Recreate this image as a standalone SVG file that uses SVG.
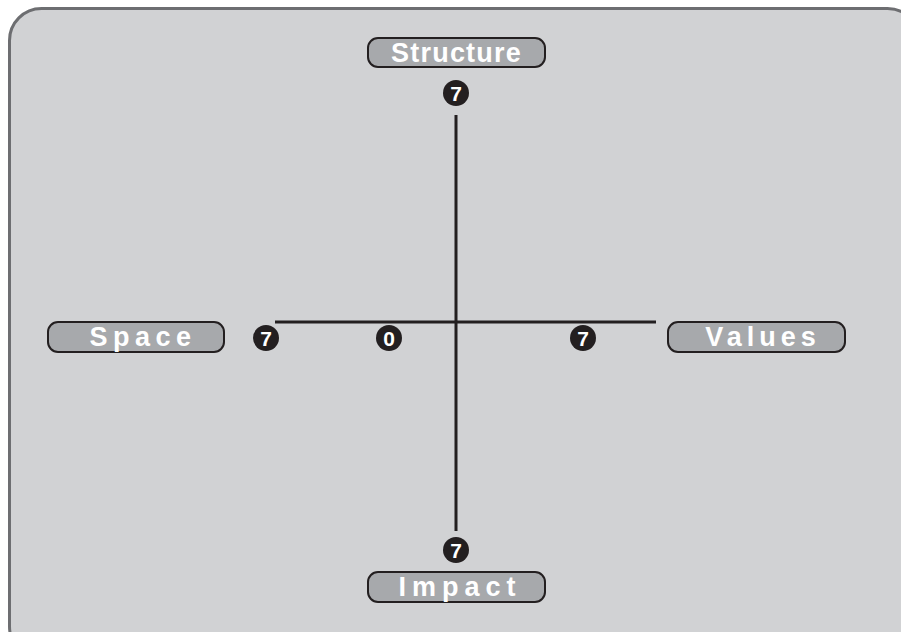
<svg xmlns="http://www.w3.org/2000/svg" width="901" height="632" viewBox="0 0 901 632">
<style>
.lbl rect{fill:#a7a9ac;stroke:#231f20;stroke-width:2}
.lbl text{fill:#ffffff;font-family:"Liberation Sans",Arial,sans-serif;font-weight:bold;font-size:27px;text-anchor:middle}
.badge circle{fill:#231f20}
.badge text{fill:#ffffff;font-family:"Liberation Sans",Arial,sans-serif;font-weight:bold;font-size:21px;text-anchor:middle}
.axis{stroke:#231f20;stroke-width:3;fill:none}
</style>
<rect x="9.5" y="8.5" width="910" height="650" rx="32" fill="#d1d2d4" stroke="#6d6e71" stroke-width="3"/>
<g id="connectors">
<line class="axis" x1="456" y1="115" x2="456" y2="531"/>
<line class="axis" x1="275" y1="322" x2="656" y2="322"/>
</g>
<g id="structure" class="lbl"><rect x="368" y="38" width="177" height="29" rx="10"/><text x="456.5" y="62" letter-spacing="1.2">Structure</text></g>
<g id="space" class="lbl"><rect x="48" y="322" width="176" height="30" rx="10"/><text x="143" y="346" letter-spacing="5.5">Space</text></g>
<g id="values" class="lbl"><rect x="668" y="322" width="177" height="30" rx="10"/><text x="763" y="346" letter-spacing="5">Values</text></g>
<g id="impact" class="lbl"><rect x="368" y="572" width="177" height="30" rx="10"/><text x="460" y="596" letter-spacing="6">Impact</text></g>
<g id="b-top" class="badge"><circle cx="456" cy="93" r="13"/><text x="456" y="100.5">7</text></g>
<g id="b-left" class="badge"><circle cx="266" cy="338" r="13"/><text x="266" y="345.5">7</text></g>
<g id="b-zero" class="badge"><circle cx="389" cy="338" r="13"/><text x="389" y="345.5">0</text></g>
<g id="b-right" class="badge"><circle cx="583" cy="338" r="13"/><text x="583" y="345.5">7</text></g>
<g id="b-bottom" class="badge"><circle cx="456" cy="550" r="13"/><text x="456" y="557.5">7</text></g>
</svg>
